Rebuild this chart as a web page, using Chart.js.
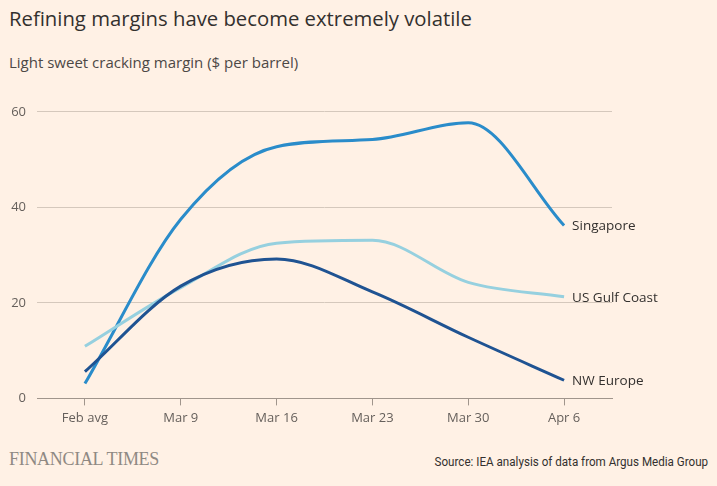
<!DOCTYPE html>
<html>
<head>
<meta charset="utf-8">
<script src="https://cdn.jsdelivr.net/npm/chart.js@4.4.1/dist/chart.umd.min.js"></script>
<style>
  html, body { margin: 0; padding: 0; background: #fff1e5; }
  body { width: 717px; height: 486px; position: relative; overflow: hidden; font-family: 'Open Sans', sans-serif; }
  #title { position: absolute; left: 9px; top: 4px; font-size: 20.3px; color: #33302e; }
  #subtitle { position: absolute; left: 9px; top: 52px; font-size: 15px; color: #4d4845; }
  #wrap { position: absolute; left: 0; top: 93px; width: 717px; height: 338px; }
  #ft { position: absolute; left: 9px; top: 449px; font-family: 'Liberation Serif', serif; font-size: 18px; color: #8f8983; letter-spacing: -0.3px; }
  #source { position: absolute; right: 9px; top: 454px; font-family: 'Roboto', sans-serif; font-size: 12.5px; color: #33302e; transform: scaleX(0.93); transform-origin: right center; white-space: nowrap; }
</style>
</head>
<body>
<div id="title">Refining margins have become extremely volatile</div>
<div id="subtitle">Light sweet cracking margin ($ per barrel)</div>
<div id="wrap"><canvas id="chart"></canvas></div>
<div id="ft">FINANCIAL TIMES</div>
<div id="source">Source: IEA analysis of data from Argus Media Group</div>
<script>
const categories = ['Feb avg', 'Mar 9', 'Mar 16', 'Mar 23', 'Mar 30', 'Apr 6']
const singapore = [3.1, 37.5, 52.7, 54.2, 57.7, 36.2]
const usGulfCoast = [10.9, 23.2, 32.5, 33.1, 24.3, 21.3]
const nwEurope = [5.6, 23.5, 29.2, 22.3, 12.8, 3.8]
const yTicks = [0, 20, 40, 60]

// label each line at its last point
const endLabels = {
  id: 'endLabels',
  afterDatasetsDraw(chart) {
    const ctx = chart.ctx
    ctx.save()
    ctx.font = '13.5px "Open Sans", sans-serif'
    ctx.fillStyle = '#33302e'
    ctx.textBaseline = 'middle'
    chart.data.datasets.forEach((ds, i) => {
      const pts = chart.getDatasetMeta(i).data
      const p = pts[pts.length - 1]
      ctx.fillText(ds.label, p.x + 8, p.y + 1)
    })
    ctx.restore()
  },
}

new Chart(document.getElementById('chart'), {
  type: 'line',
  data: {
    labels: categories,
    datasets: [
      { label: 'NW Europe', data: nwEurope, borderColor: '#1f5392' },
      { label: 'US Gulf Coast', data: usGulfCoast, borderColor: '#96d0df' },
      { label: 'Singapore', data: singapore, borderColor: '#2a8cca' },
    ].map((d) => ({
      ...d,
      borderWidth: 3,
      pointRadius: 0,
      fill: false,
      cubicInterpolationMode: 'monotone',
    })),
  },
  options: {
    responsive: true,
    maintainAspectRatio: false,
    animation: false,
    layout: { padding: { top: 0, right: 105, bottom: 0, left: 0 } },
    plugins: { legend: { display: false }, tooltip: { enabled: false } },
    scales: {
      x: {
        offset: true,
        grid: { drawOnChartArea: false, drawTicks: true, tickLength: 7, color: '#a0958c' },
        border: { color: '#a0958c', width: 1 },
        ticks: { color: '#66605c', font: { family: 'Open Sans', size: 13 }, padding: 5, maxRotation: 0 },
      },
      y: {
        min: 0,
        max: 60,
        afterFit(scale) { scale.width = 37 },
        afterBuildTicks(scale) { scale.ticks = yTicks.map((v) => ({ value: v })) },
        grid: { drawTicks: false, color: '#d5c8bc' },
        border: { display: false },
        ticks: { color: '#66605c', font: { family: 'Open Sans', size: 13 }, padding: 11 },
      },
    },
  },
  plugins: [endLabels],
})
</script>
</body>
</html>
